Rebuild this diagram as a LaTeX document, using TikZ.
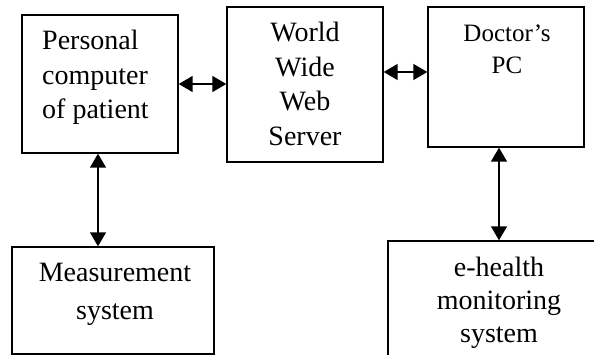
\documentclass[tikz,border=0pt]{standalone}
\usepackage{fontspec}
\setmainfont{Liberation Serif}
\usetikzlibrary{arrows.meta,positioning}

\begin{document}
\begin{tikzpicture}[x=1pt,y=-1pt,
        box/.style = {draw,rectangle,line width=1.4pt,inner sep=0pt},
        txt/.style = {inner sep=0pt,anchor=north,font=\fontsize{28}{34.5}\selectfont},
        link/.style = {line width=1.5pt,{Triangle[length=14pt,width=16pt]}-{Triangle[length=14pt,width=16pt]}}]
    \useasboundingbox (0,0) rectangle (594,355);
    \clip (0,0) rectangle (594,355);
    % the five blocks
    \node [box,minimum width=156pt,minimum height=138pt] (pc) at (100,84) {};
    \node [box,minimum width=156pt,minimum height=155pt] (www) at (305,84.5) {};
    \node [box,minimum width=156pt,minimum height=140pt] (doc) at (506,77) {};
    \node [box,minimum width=202pt,minimum height=107pt] (meas) at (113,300.5) {};
    \node [box,minimum width=222pt,minimum height=129pt] (ehealth) at (499,305.5) {};
    % their texts
    \node [txt,anchor=north west,align=left] (pctext) at (42,30) {Personal\\computer\\of patient};
    \node [txt,align=center] (wwwtext) at (305,22) {World\\Wide\\Web\\Server};
    \node [txt,align=center,font=\fontsize{25}{31.5}\selectfont] (doctext) at (507,25) {Doctor’s\\PC};
    \node [txt,align=center,font=\fontsize{28}{38}\selectfont] (meastext) at (115,263) {Measurement\\system};
    \node [txt,align=center,font=\fontsize{28}{33}\selectfont] (ehealthtext) at (499,257) {e-health\\monitoring\\system};
    % links
    \draw [link] (pc.east) -- (www.west |- pc.east);
    \draw [link] (www.east |- 0,72) -- (doc.west |- 0,72);
    \draw [link] (98,0 |- pc.south) -- (98,0 |- meas.north);
    \draw [link] (ehealth.north |- doc.south) -- (ehealth.north);
\end{tikzpicture}
\end{document}
